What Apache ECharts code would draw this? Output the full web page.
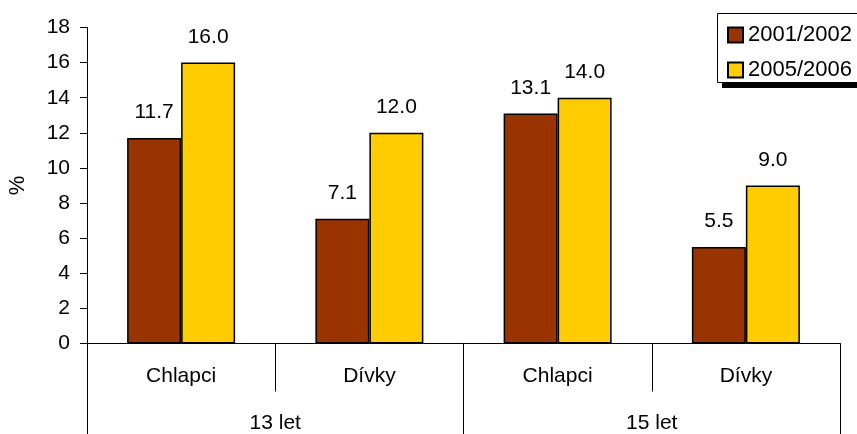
<!DOCTYPE html>
<html>
<head>
<meta charset="utf-8">
<script src="https://cdn.jsdelivr.net/npm/echarts@6/dist/echarts.min.js"></script>
<style>
  html, body { margin: 0; padding: 0; background: #fff; }
  #chart { width: 857px; height: 434px; }
</style>
</head>
<body>
<div id="chart"></div>
<script>
// Sub-categories (inner axis) and age groups (outer axis)
const categories = ['Chlapci', 'Dívky', 'Chlapci', 'Dívky'];
const groups = ['13 let', '15 let'];

// Share in percent per survey year
const seriesNames = ['2001/2002', '2005/2006'];
const values2001 = [11.7, 7.1, 13.1, 5.5];
const values2005 = [16.0, 12.0, 14.0, 9.0];

// Y axis range
const yMin = 0, yMax = 18, yStep = 2;

const FONT = '"Liberation Sans", Arial, sans-serif';
const chart = echarts.init(document.getElementById('chart'), null, { renderer: 'canvas' });

const labelStyle = {
  show: true,
  position: 'top',
  distance: 15,
  color: '#000',
  fontSize: 21,
  fontFamily: FONT,
  formatter: p => p.value.toFixed(1)
};

chart.setOption({
  animation: false,
  backgroundColor: '#fff',
  textStyle: { fontFamily: FONT },
  grid: { left: 87, right: 17, top: 27.5, bottom: 90.5, containLabel: false, outerBoundsMode: 'none' },
  legend: {
    orient: 'vertical',
    left: 722,
    top: 19,
    itemWidth: 15,
    itemHeight: 15,
    itemGap: 13,
    icon: 'rect',
    textStyle: { fontSize: 22, color: '#000', fontFamily: FONT },
    data: seriesNames
  },
  graphic: [
    { type: 'rect', z: -1, shape: { x: 722, y: 82, width: 160, height: 6 }, style: { fill: '#000' } },
    { type: 'rect', z: -1, shape: { x: 717.5, y: 13.5, width: 160, height: 69 }, style: { fill: '#fff', stroke: '#000', lineWidth: 1 } }
  ],
  xAxis: [
    {
      type: 'category',
      position: 'bottom',
      data: categories,
      axisLine: { show: true, lineStyle: { color: '#000', width: 1 } },
      axisTick: { show: true, interval: 0, length: 48, lineStyle: { color: '#000' } },
      axisLabel: { interval: 0, margin: 22, fontSize: 21, color: '#000', fontFamily: FONT }
    },
    {
      type: 'category',
      position: 'bottom',
      data: groups,
      axisLine: { show: false },
      axisTick: { show: true, interval: 0, length: 91, lineStyle: { color: '#000' } },
      axisLabel: { interval: 0, margin: 69, fontSize: 21, color: '#000', fontFamily: FONT }
    }
  ],
  yAxis: {
    type: 'value',
    min: yMin,
    max: yMax,
    interval: yStep,
    name: '%',
    nameLocation: 'middle',
    nameRotate: 90,
    nameGap: 58,
    nameTextStyle: { fontSize: 22, color: '#000', fontFamily: FONT },
    axisLine: { show: true, lineStyle: { color: '#000', width: 1 } },
    axisTick: { show: true, length: 7, lineStyle: { color: '#000' } },
    axisLabel: { margin: 17, fontSize: 21, color: '#000', fontFamily: FONT },
    splitLine: { show: false }
  },
  series: [
    {
      name: seriesNames[0],
      type: 'bar',
      xAxisIndex: 0,
      data: values2001,
      barWidth: 54,
      barGap: '0%',
      itemStyle: { color: '#993300', borderColor: '#000', borderWidth: 1.5 },
      label: labelStyle
    },
    {
      name: seriesNames[1],
      type: 'bar',
      xAxisIndex: 0,
      data: values2005,
      barWidth: 54,
      barGap: '0%',
      itemStyle: { color: '#FFCC00', borderColor: '#000', borderWidth: 1.5 },
      label: labelStyle
    }
  ]
});
</script>
</body>
</html>
